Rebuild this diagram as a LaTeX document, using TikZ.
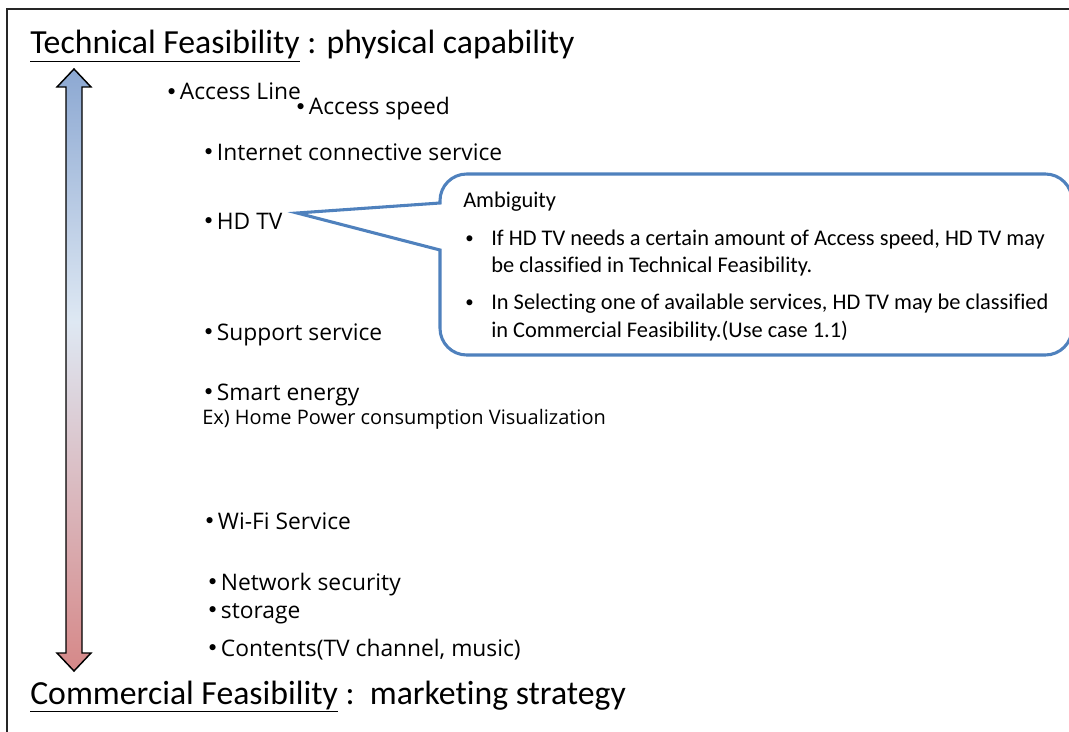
\documentclass[tikz,border=0pt]{standalone}
\usepackage{fontspec}
\setmainfont{Carlito}[Ligatures={NoCommon}]
\newfontfamily\itemfont{Open Sans}
\newfontfamily\bulfont{Carlito}
\usetikzlibrary{calc}
\definecolor{calloutblue}{RGB}{79,129,189}
\definecolor{arrtop}{RGB}{140,168,210}
\definecolor{arrmid}{RGB}{222,232,243}
\definecolor{arrbot}{RGB}{214,136,136}
\pgfdeclareverticalshading{arrowshade}{100bp}{color(0bp)=(arrbot); color(25bp)=(arrbot); color(54bp)=(arrmid); color(75bp)=(arrtop); color(100bp)=(arrtop)}
\newcommand{\bul}{{\bulfont\fontsize{13}{13}\selectfont\raisebox{2.6pt}{•}}\hspace{3pt}}
\newcommand{\cbul}{\raisebox{0.8pt}{\scalebox{0.75}{•}}}
\tikzset{
  title/.style={anchor=base west, inner sep=0pt, font=\fontsize{25.3}{30}\selectfont},
  item/.style={anchor=base west, inner sep=0pt, font=\itemfont\fontsize{17.1}{20}\selectfont},
  subitem/.style={anchor=base west, inner sep=0pt, font=\itemfont\fontsize{15}{18}\selectfont},
  ctext/.style={anchor=base west, inner sep=0pt, font=\fontsize{16.8}{20}\selectfont},
  frame/.style={line width=1.6pt, draw=black!85},
  callout/.style={draw=calloutblue, line width=2.3pt, fill=white},
}
\begin{document}
\begin{tikzpicture}[x=0.75pt,y=-0.75pt]
\useasboundingbox (0,0) rectangle (1069,731);
\begin{scope}
\clip (0,0) rectangle (1069,731);
% frame
\draw[frame] (1075,9) -- (7,9) -- (7,740);
% double arrow
\path[shading=arrowshade, draw=black, line width=1.1pt]
  (74,69) -- (91,87) -- (82,87) -- (82,653) -- (91,653) -- (74,671) -- (57,653) -- (66,653) -- (66,87) -- (57,87) -- cycle;
% titles
\node[title] (tech) at (30,54) {\underline{Technical Feasibility} : physical capability};
\node[title] (comm) at (30,704) {\underline{Commercial Feasibility} :\ \ marketing strategy};
% items
\node[item] (al) at (167,100) {\bul Access Line};
\node[item] (as) at (296,115) {\bul Access speed};
\node[item] (ics) at (204,160) {\bul Internet connective service};
\node[item] (hdtv) at (204,229) {\bul HD TV};
\node[item] (sup) at (204,340) {\bul Support service};
\node[item] (se) at (204,400) {\bul Smart energy};
\node[subitem] (ex) at (202,424) {Ex) Home Power consumption Visualization};
\node[item] (wifi) at (205,529) {\bul Wi-Fi Service};
\node[item] (ns) at (208,590) {\bul Network security};
\node[item] (st) at (208,618) {\bul storage};
\node[item] (cont) at (208,656) {\bul Contents(TV channel, music)};
% callout
\coordinate (tip) at (297,213);
\draw[callout] (440,203) [rounded corners=20] -- (440,174) -- (1072,174) -- (1072,355) -- (440,355) [sharp corners] -- (440,250) -- (tip) -- cycle;
\node[ctext] (amb) at (463,207) {Ambiguity};
\node[ctext] (b1) at (465,245) {\cbul};
\node[ctext] (l1) at (491,245) {If HD TV needs a certain amount of Access speed, HD TV may};
\node[ctext] (l2) at (491,272) {be classified in Technical Feasibility.};
\node[ctext] (b2) at (465,309) {\cbul};
\node[ctext] (l3) at (491,309) {In Selecting one of available services, HD TV may be classified};
\node[ctext] (l4) at (491,337) {in Commercial Feasibility.(Use case 1.1)};
\end{scope}
\end{tikzpicture}
\end{document}
